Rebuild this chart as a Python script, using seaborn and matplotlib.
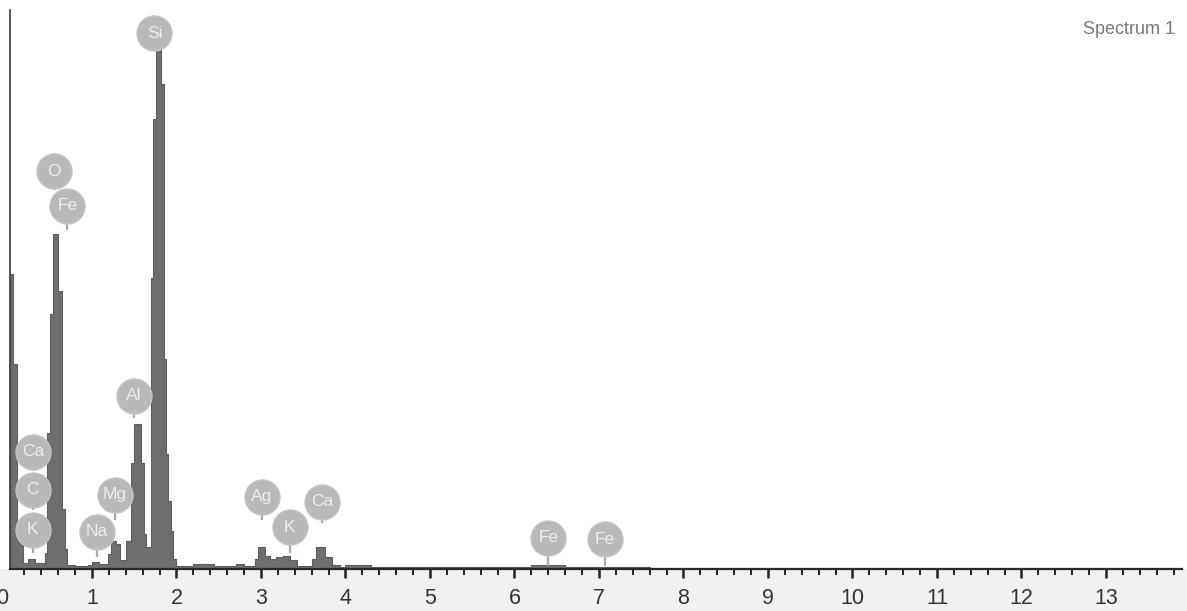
import matplotlib
matplotlib.use("Agg")
import matplotlib.pyplot as plt
import matplotlib.transforms as mtransforms
from matplotlib.patches import Rectangle
from matplotlib.ticker import MultipleLocator
import seaborn as sns

# ---- data (energy in keV, counts in arbitrary units) ----
bin_edges_kev = [0.03, 0.07, 0.11, 0.18, 0.24, 0.32, 0.44, 0.47, 0.50, 0.54,
                 0.60, 0.645, 0.68, 0.71, 0.80, 0.95, 1.00, 1.08, 1.19, 1.23,
                 1.28, 1.33, 1.40, 1.46, 1.50, 1.58, 1.61, 1.64, 1.70, 1.72,
                 1.76, 1.82, 1.85, 1.875, 1.90, 1.935, 1.96, 2.00, 2.20, 2.45,
                 2.70, 2.80, 2.93, 2.97, 3.05, 3.11, 3.18, 3.26, 3.34, 3.43,
                 3.60, 3.65, 3.76, 3.84, 3.93, 4.00, 4.30, 6.20, 6.60, 7.60]
counts = [295, 205, 30, 6, 10, 6, 16, 136, 255, 335,
          278, 60, 20, 4, 3, 4, 7, 5, 15, 28,
          25, 9, 28, 106, 145, 106, 35, 22, 291, 450,
          520, 485, 210, 115, 68, 38, 10, 3, 5, 3,
          5, 3, 10, 22, 13, 10, 12, 13, 9, 3,
          10, 22, 12, 4, 2, 4, 2, 4, 2]

label_elements = ["Si", "O", "Fe", "Al", "Ca", "C", "K", "Na", "Mg",
                  "Ag", "K", "Ca", "Fe", "Fe"]
label_energy_kev = [1.74, 0.55, 0.71, 1.50, 0.30, 0.30, 0.30, 1.06, 1.27,
                    3.01, 3.34, 3.72, 6.40, 7.07]
label_center_counts = [536, 398, 363, 173, 117, 79, 39, 37, 74,
                       72, 42, 67, 31, 30]
label_tip_counts = [519, 379, 339, 151, 99, 59, 16, 12, 49,
                    49, 16, 46, 3, 3]

tick_values = list(range(1, 14))
spectrum_name = "Spectrum 1"

# ---- style ----
sns.set_style("white")
plt.rcParams['font.family'] = ['Liberation Sans', 'DejaVu Sans']

W, H = 1187, 611
fig = plt.figure(figsize=(W / 100, H / 100), dpi=100)
fig.patch.set_facecolor("white")
fig.patches.append(Rectangle((0, 0), 1, 42 / H, transform=fig.transFigure,
                             facecolor="#f1f1f1", edgecolor="none", zorder=-5))

ax = fig.add_axes([10 / W, 42 / H, (1182 - 10) / W, 559 / H])
ax.set_facecolor("white")
ax.set_zorder(1)

centers = [(a + b) / 2 for a, b in zip(bin_edges_kev[:-1], bin_edges_kev[1:])]
sns.histplot(x=centers, weights=counts, bins=bin_edges_kev, element="step",
             fill=True, color="#6e6e6e", alpha=1.0, linewidth=0.8,
             edgecolor="#5e5e5e", ax=ax, zorder=2)

ax.set_xlim(0.03, 13.9)
ax.set_ylim(0, 559)

# element bubbles
circle_px = 35
s_marker = (circle_px * 72 / 100) ** 2
bubble_r = circle_px / 2
for el, e, yc, yt in zip(label_elements, label_energy_kev,
                         label_center_counts, label_tip_counts):
    ax.plot([e, e], [yt, yc - bubble_r + 2], color="#a8a8a8", lw=1.6,
            zorder=3, solid_capstyle="butt")
    ax.scatter([e], [yc], s=s_marker, color="#b9b9b9", edgecolor="#c4c4c4",
               linewidth=1.0, zorder=4)
    ax.text(e, yc, el, ha="center", va="center", fontsize=12.5,
            color="#ededed", zorder=5)

# axes styling
for side in ["top", "right"]:
    ax.spines[side].set_visible(False)
ax.spines["left"].set_color("#3a3a3a")
ax.spines["left"].set_linewidth(1.2)
ax.spines["bottom"].set_color("#2a2a2a")
ax.spines["bottom"].set_linewidth(1.6)
ax.set_xticks(tick_values)
ax.set_xticklabels([str(t) for t in tick_values])
ax.xaxis.set_minor_locator(MultipleLocator(0.2))
ax.tick_params(axis="x", which="major", direction="out", length=6.5, width=1.8,
               color="#222222", labelsize=15.5, labelcolor="#333333", pad=7,
               bottom=True)
ax.tick_params(axis="x", which="minor", direction="out", length=4, width=1.4,
               color="#222222", bottom=True)
ax.set_yticks([])
ax.set_xlabel("")
ax.set_ylabel("")

# clipped "0" label at the left edge
trans = mtransforms.blended_transform_factory(ax.transData, ax.transAxes)
ax.text(-0.065, -0.053, "0", transform=trans, ha="center", va="center",
        fontsize=15.5, color="#333333", clip_on=False)

fig.text(1175 / W, 1 - 30 / H, spectrum_name, ha="right", va="center",
         fontsize=13, color="#777777")

fig.savefig("out.png", dpi=100)
